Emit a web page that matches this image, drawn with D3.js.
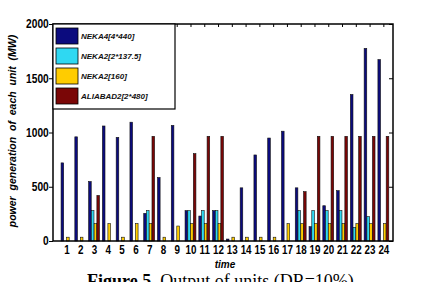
<!DOCTYPE html>
<html>
<head>
<meta charset="utf-8">
<script src="https://cdn.jsdelivr.net/npm/d3@7"></script>
<style>
  body { margin: 0; background: #fff; }
  svg { display: block; }
  text { font-family: "Liberation Sans Narrow", "Liberation Sans", Arial, sans-serif; font-weight: bold; }
</style>
</head>
<body>
<svg id="chart" width="439" height="282"></svg>
<script>
// hours on the x axis
var hours = d3.range(1, 25);

// output of each unit (MW)
var neka4   = [720, 960, 548, 1060, 955, 1095, 255, 585, 1065, 280, 230, 280, 18, 490, 793, 949, 1012, 490, 132, 325, 464, 1350, 1775, 1672];
var neka2a  = [0, 0, 280, 0, 0, 0, 280, 0, 0, 280, 280, 280, 0, 0, 0, 0, 0, 280, 280, 280, 280, 126, 224, 0];
var neka2b  = [35, 35, 160, 160, 35, 160, 160, 35, 138, 160, 160, 160, 35, 35, 35, 35, 160, 160, 160, 160, 160, 160, 160, 160];
var aliabad = [0, 0, 420, 0, 0, 0, 965, 0, 0, 805, 965, 965, 0, 0, 0, 0, 0, 455, 965, 965, 965, 965, 965, 965];

var seriesNames  = ["NEKA4[4*440]", "NEKA2[2*137.5]", "NEKA2[160]", "ALIABAD2[2*480]"];
var seriesColors = ["#0b0b7e", "#2fd8f2", "#ffcc00", "#7a0606"];
var seriesValues = [neka4, neka2a, neka2b, aliabad];

var yTicks = [0, 500, 1000, 1500, 2000];

// plot box
var box = {left: 53, right: 393, top: 24, bottom: 241};

var svg = d3.select("#chart");

var x = d3.scaleLinear().domain([0.02, 24.7]).range([box.left, box.right]);
var y = d3.scaleLinear().domain([0, 2000]).range([box.bottom, box.top]);

var unit = x(2) - x(1);
var barStep = 0.2 * unit, barWidth = 0.19 * unit;

// bars, one group per series
seriesValues.forEach(function(vals, s) {
  svg.append("g")
    .selectAll("rect")
    .data(vals)
    .join("rect")
      .attr("x", function(d, i) { return x(hours[i]) + (s - 1.5) * barStep - barWidth / 2; })
      .attr("y", function(d) { return y(d); })
      .attr("width", barWidth)
      .attr("height", function(d) { return y(0) - y(d); })
      .attr("fill", seriesColors[s])
      .attr("stroke", d => d > 0 ? "#111" : "none")
      .attr("stroke-width", 0.6)
      .attr("opacity", d => d > 0 ? 1 : 0);
});

// left axis (outward ticks)
var yAxis = d3.axisLeft(y).tickValues(yTicks).tickSize(4).tickPadding(1).tickFormat(d3.format("d"));
svg.append("g")
  .attr("transform", "translate(" + box.left + ",0)")
  .call(yAxis)
  .call(g => g.select(".domain").remove())
  .call(g => g.selectAll("line").attr("stroke", "#000"))
  .call(g => g.selectAll("text").attr("font-size", 12).attr("fill", "#000").attr("font-family", null)
    .attr("transform", "scale(0.85,1)"));

// right axis, inward ticks
svg.append("g")
  .attr("transform", "translate(" + box.right + ",0)")
  .call(d3.axisLeft(y).tickValues(yTicks).tickSize(4).tickFormat(""))
  .call(g => g.select(".domain").remove());

// top axis, inward ticks on every hour
svg.append("g")
  .attr("transform", "translate(0," + box.top + ")")
  .call(d3.axisBottom(x).tickValues(hours).tickSize(3).tickFormat(""))
  .call(g => g.select(".domain").remove());

// bottom labels
svg.append("g")
  .attr("transform", "translate(0," + box.bottom + ")")
  .call(d3.axisBottom(x).tickValues(hours).tickSize(0).tickPadding(4).tickFormat(d3.format("d")))
  .call(g => g.select(".domain").remove())
  .call(g => g.selectAll("text").attr("font-size", 12).attr("fill", "#000").attr("font-family", null)
    .attr("transform", "scale(0.82,1)"));

// frame
svg.append("rect")
  .attr("x", box.left).attr("y", box.top)
  .attr("width", box.right - box.left).attr("height", box.bottom - box.top)
  .attr("fill", "none").attr("stroke", "#000").attr("stroke-width", 1.5);

// legend
var leg = svg.append("g").attr("transform", "translate(" + box.left + "," + box.top + ")");
leg.append("rect").attr("width", 122).attr("height", 85)
  .attr("fill", "#fff").attr("stroke", "#000").attr("stroke-width", 1.2);
seriesNames.forEach(function(name, i) {
  var row = leg.append("g").attr("transform", "translate(0," + (4 + i * 20) + ")");
  row.append("rect").attr("x", 3).attr("y", 0).attr("width", 22).attr("height", 16)
    .attr("fill", seriesColors[i]).attr("stroke", "#000").attr("stroke-width", 0.8);
  row.append("text").attr("x", 28).attr("y", 11)
    .attr("font-size", 8).attr("font-style", "italic").attr("fill", "#111")
    .style("font-family", "'Liberation Sans', Arial, sans-serif")
    .text(name);
});

// axis titles
svg.append("text")
  .attr("transform", "translate(16,131) rotate(-90)")
  .attr("text-anchor", "middle")
  .attr("font-size", 10.5).attr("font-style", "italic")
  .style("font-family", "'Liberation Sans', Arial, sans-serif")
  .style("white-space", "pre")
  .text("power  generation  of  each  unit  (MW)");

svg.append("text")
  .attr("x", 225).attr("y", 268)
  .attr("text-anchor", "middle")
  .attr("font-size", 10).attr("font-style", "italic")
  .style("font-family", "'Liberation Sans', Arial, sans-serif")
  .text("time");

// caption (cut by the bottom edge)
var cap = svg.append("text")
  .attr("x", 87).attr("y", 287)
  .style("font-size", "18px")
  .style("font-family", "'Liberation Serif', 'Times New Roman', serif")
  .style("white-space", "pre")
  .style("font-weight", "normal");
cap.append("tspan").style("font-weight", "bold").text("Figure 5. ");
cap.append("tspan").style("font-weight", "normal").text("Output of units (DR=10%)");
</script>
</body>
</html>
